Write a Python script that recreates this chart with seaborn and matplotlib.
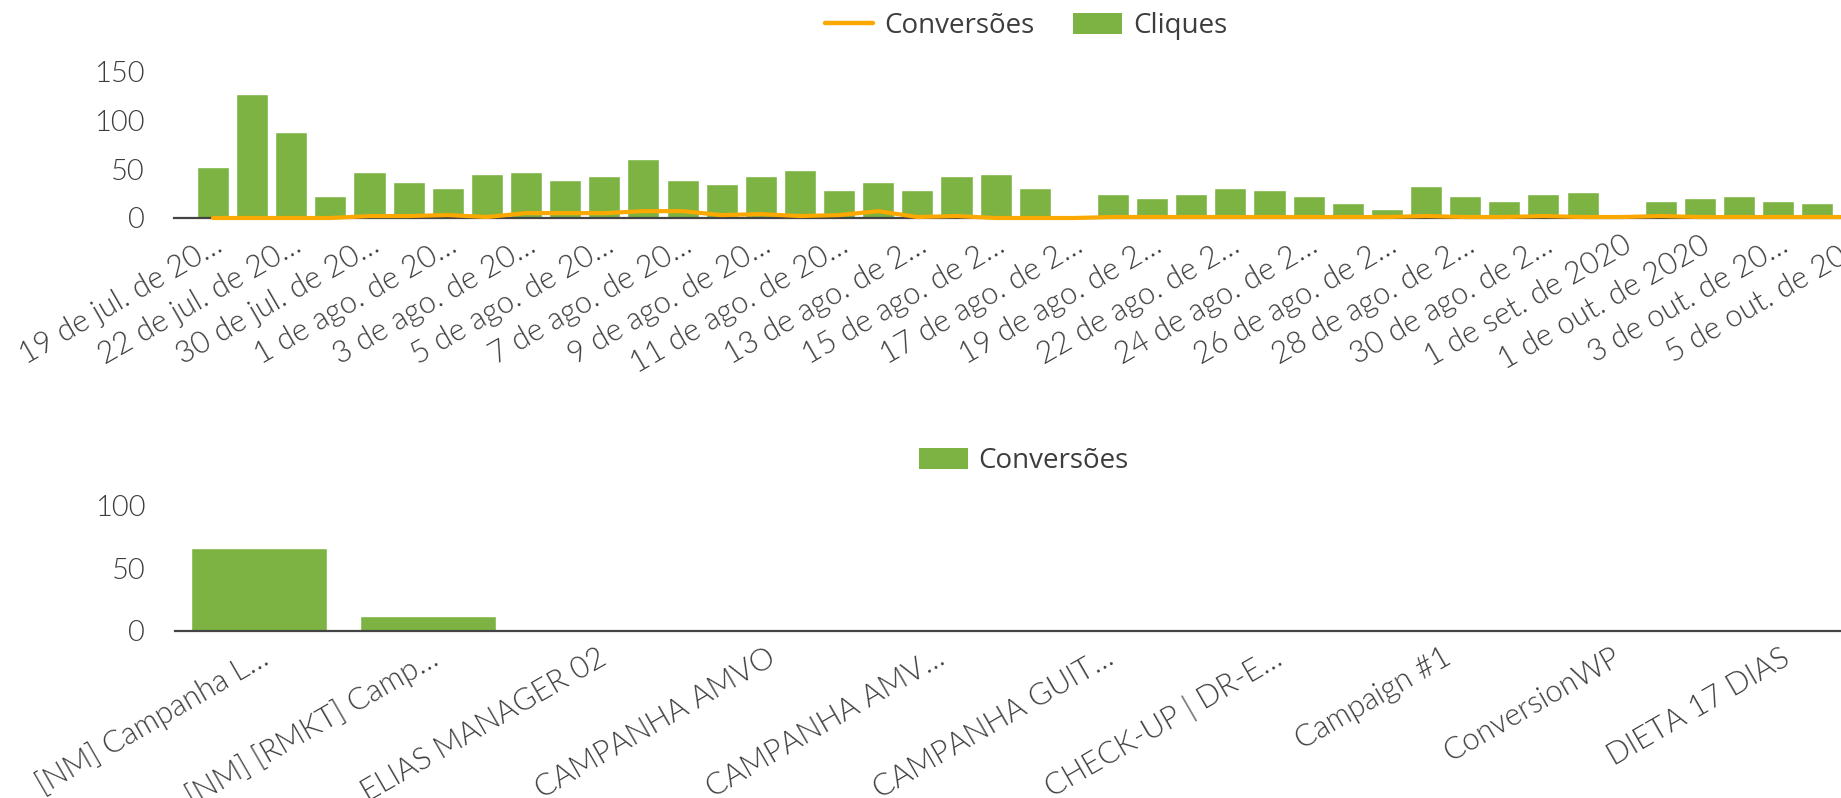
import numpy as np
import pandas as pd
import matplotlib
matplotlib.use("Agg")
import matplotlib.pyplot as plt
from matplotlib.lines import Line2D
from matplotlib.patches import Patch
import seaborn as sns

# ---------------- data ----------------
dates = ["19 jul", "21 jul", "22 jul", "29 jul", "30 jul", "31 jul",
         "1 ago", "2 ago", "3 ago", "4 ago", "5 ago", "6 ago", "7 ago", "8 ago",
         "9 ago", "10 ago", "11 ago", "12 ago", "13 ago", "14 ago", "15 ago",
         "16 ago", "17 ago", "18 ago", "19 ago", "20 ago", "22 ago", "23 ago",
         "24 ago", "25 ago", "26 ago", "27 ago", "28 ago", "29 ago", "30 ago",
         "31 ago", "1 set", "30 set", "1 out", "2 out", "3 out", "4 out", "5 out"]
cliques = [52, 127, 88, 23, 47, 37, 31, 45, 47, 39, 43, 60, 39, 35, 43, 49, 29,
           37, 29, 43, 45, 31, 0, 25, 21, 25, 31, 29, 23, 15, 9, 33, 23, 17, 25,
           27, 2, 17, 21, 23, 17, 15, 15]
conversoes_dia = [0, 0, 0, 0, 2, 2, 3, 1, 5, 5, 5, 7, 7, 3, 4, 2, 3, 7, 1, 2,
                  0, 0, 0, 1, 1, 1, 1, 1, 1, 1, 1, 2, 1, 1, 2, 1, 1, 2, 1, 1,
                  1, 1, 1]
date_tick_labels = ["19 de jul. de 20…", "22 de jul. de 20…", "30 de jul. de 20…",
                    "1 de ago. de 20…", "3 de ago. de 20…", "5 de ago. de 20…",
                    "7 de ago. de 20…", "9 de ago. de 20…", "11 de ago. de 20…",
                    "13 de ago. de 2…", "15 de ago. de 2…", "17 de ago. de 2…",
                    "19 de ago. de 2…", "22 de ago. de 2…", "24 de ago. de 2…",
                    "26 de ago. de 2…", "28 de ago. de 2…", "30 de ago. de 2…",
                    "1 de set. de 2020", "1 de out. de 2020", "3 de out. de 20…",
                    "5 de out. de 20…"]

campanhas = ["[NM] Campanha L…", "[NM] [RMKT] Camp…", "ELIAS MANAGER 02",
             "CAMPANHA AMVO", "CAMPANHA AMV…", "CAMPANHA GUIT…",
             "CHECK-UP | DR-E…", "Campaign #1", "ConversionWP", "DIETA 17 DIAS"]
conversoes_camp = [66, 12, 0, 0, 0, 0, 0, 0, 0, 0]

# ---------------- style ----------------
sns.set_theme(style="white")
plt.rcParams["font.family"] = ["Lato", "DejaVu Sans"]
GREEN = "#7CB342"
ORANGE = "#FBA800"
TXT = "#3d3d3d"
AXIS = "#444444"
YTICK_FS = 21
XTICK_FS = 22
LEG_FS = 20

W, H = 1841, 798
fig = plt.figure(figsize=(W / 100, H / 100), dpi=100)

# ---------- top chart ----------
step1 = 39.13
x0_1 = 213 - 1.0 * step1
ax1 = fig.add_axes([x0_1 / W, (H - 218) / H, 43.5 * step1 / W, (218 - 71.6) / H])
df1 = pd.DataFrame({"data": dates, "cliques": cliques, "conv": conversoes_dia})
sns.barplot(data=df1, x="data", y="cliques", color=GREEN, saturation=1,
            width=0.82, ax=ax1, zorder=2)
sns.pointplot(data=df1, x="data", y="conv", color=ORANGE, markers="",
              linestyles="-", errorbar=None, ax=ax1)
for ln in ax1.lines:
    ln.set_linewidth(3)
    ln.set_clip_on(False)
    ln.set_zorder(4)
ax1.set_xlim(-1.0, 42.5)
ax1.set_ylim(0, 150)
ax1.set_yticks([0, 50, 100, 150])
ax1.set_xticks(range(0, len(dates), 2))
ax1.set_xticklabels(date_tick_labels, rotation=30, ha="right",
                    rotation_mode="anchor", va="top")

# ---------- bottom chart ----------
step2 = 169
x0_2 = 259 - 0.5 * step2
ax2 = fig.add_axes([x0_2 / W, (H - 630.5) / H, 10 * step2 / W, 124.5 / H])
df2 = pd.DataFrame({"campanha": campanhas, "conv": conversoes_camp})
sns.barplot(data=df2, x="campanha", y="conv", color=GREEN, saturation=1,
            width=0.8, ax=ax2, zorder=2)
ax2.set_xlim(-0.5, 9.5)
ax2.set_ylim(0, 100)
ax2.set_yticks([0, 50, 100])
ax2.set_xticks(range(len(campanhas)))
ax2.set_xticklabels(campanhas, rotation=30, ha="right",
                    rotation_mode="anchor", va="top")

for ax in (ax1, ax2):
    ax.set_xlabel("")
    ax.set_ylabel("")
    for s in ("top", "right", "left"):
        ax.spines[s].set_visible(False)
    ax.spines["bottom"].set_color(AXIS)
    ax.spines["bottom"].set_linewidth(1.6)
    ax.spines["bottom"].set_zorder(3)
    ax.tick_params(axis="both", length=0, colors=TXT)
    ax.tick_params(axis="y", pad=21, labelsize=YTICK_FS)
    ax.tick_params(axis="x", pad=9, labelsize=XTICK_FS)
    for t in ax.get_xticklabels() + ax.get_yticklabels():
        t.set_fontweight(300)
    ax.set_facecolor("none")

# ---------- legends ----------
leg_kw = dict(frameon=False, handlelength=1.75,
              handleheight=0.82, handletextpad=0.4, columnspacing=1.4,
              labelcolor=TXT, borderaxespad=0, borderpad=0,
              prop={"family": ["Open Sans", "DejaVu Sans"], "size": LEG_FS})
h1 = [Line2D([0], [0], color=ORANGE, lw=3.2),
      Patch(facecolor=GREEN, edgecolor="none")]
fig.legend(h1, ["Conversões", "Cliques"], loc="center", ncol=2,
           bbox_to_anchor=(1026 / W, 1 - 26 / H), **leg_kw)
h2 = [Patch(facecolor=GREEN, edgecolor="none")]
fig.legend(h2, ["Conversões"], loc="center", ncol=1,
           bbox_to_anchor=(1024 / W, 1 - 461 / H), **leg_kw)

fig.savefig("out.png", dpi=100, facecolor="white")
